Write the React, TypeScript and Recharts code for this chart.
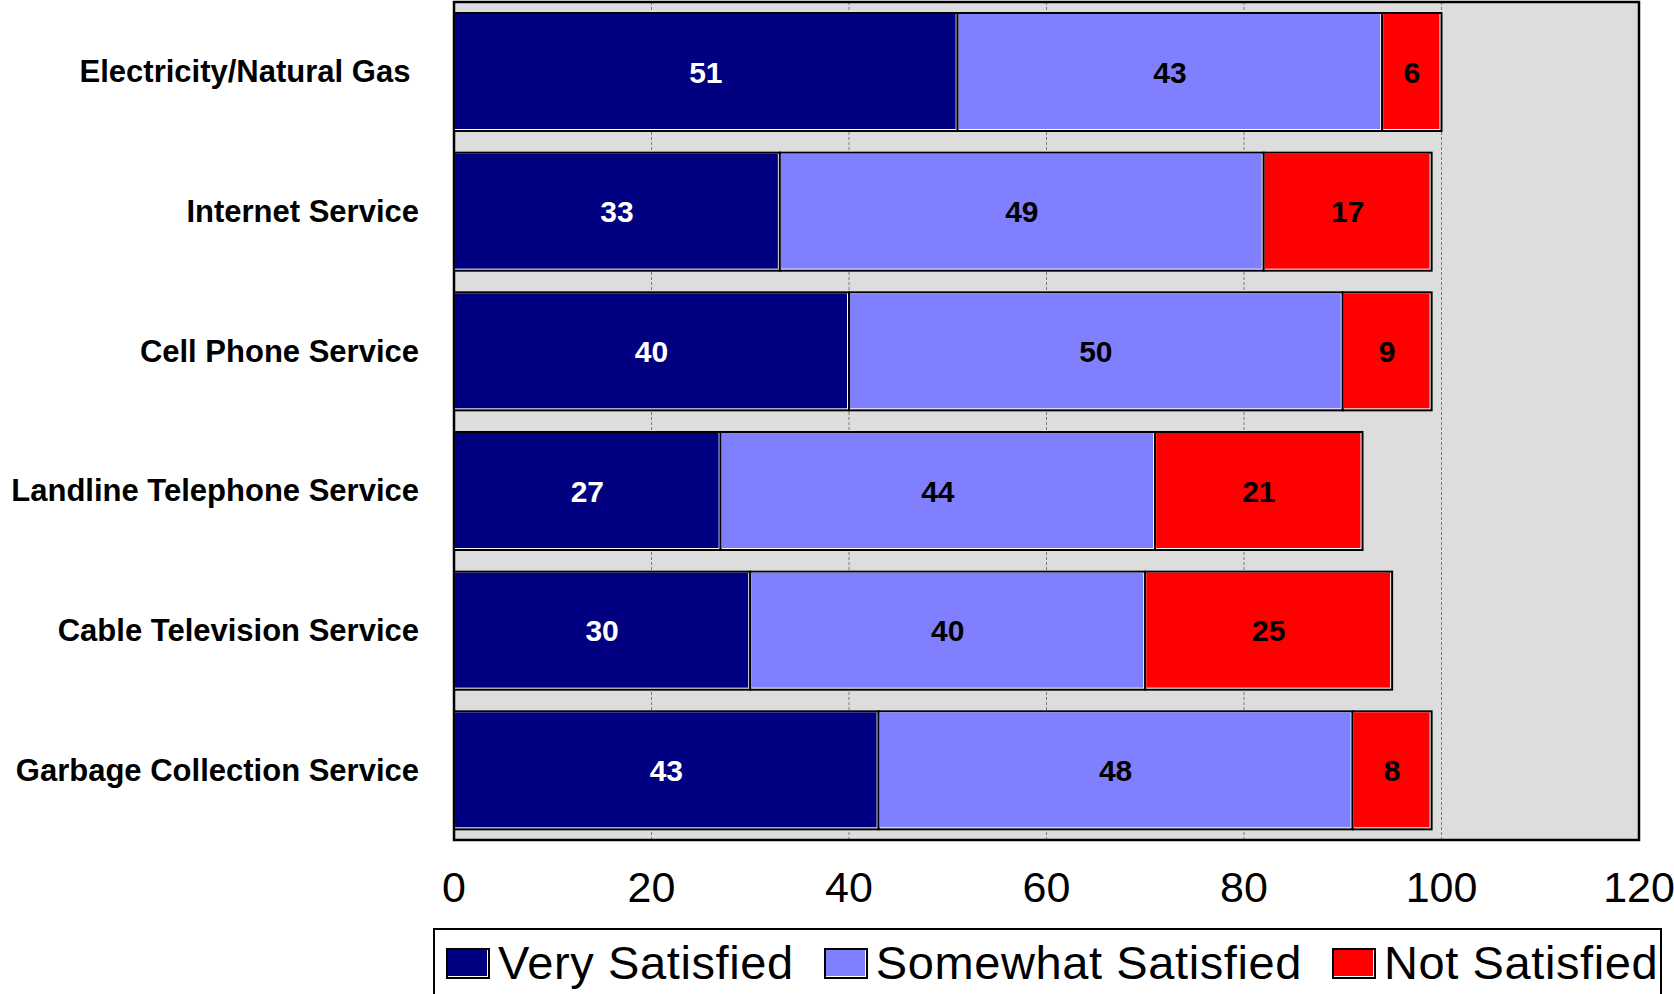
import { BarChart, Bar, XAxis, YAxis, CartesianGrid, Legend, LabelList, ReferenceArea } from 'recharts';

const categories = [
  'Electricity/Natural Gas ',
  'Internet Service',
  'Cell Phone Service',
  'Landline Telephone Service',
  'Cable Television Service',
  'Garbage Collection Service',
];
const verySatisfied = [51, 33, 40, 27, 30, 43];
const somewhatSatisfied = [43, 49, 50, 44, 40, 48];
const notSatisfied = [6, 17, 9, 21, 25, 8];
const xTicks = [0, 20, 40, 60, 80, 100, 120];

const series = [
  { key: 'very', name: 'Very Satisfied', color: '#000080', labelColor: '#ffffff' },
  { key: 'somewhat', name: 'Somewhat Satisfied', color: '#8080ff', labelColor: '#000000' },
  { key: 'not', name: 'Not Satisfied', color: '#ff0000', labelColor: '#000000' },
];

const data = categories.map((name, i) => ({
  name,
  very: verySatisfied[i],
  somewhat: somewhatSatisfied[i],
  not: notSatisfied[i],
}));

const FONT = '"Liberation Sans", Arial, sans-serif';

// black outline with a thin white edge on the bottom/right, like the old excel look
const Segment = (props: any) => {
  const { x, y, width, height, fill } = props;
  if (!width || width <= 0) return null;
  return (
    <g>
      <rect x={x - 1} y={y - 1} width={width + 2} height={height + 2} fill="#000" />
      <rect x={x + 1} y={y + 1} width={width - 2} height={height - 2} fill="#fff" />
      <rect x={x + 1} y={y + 1} width={width - 3} height={height - 3} fill={fill} />
    </g>
  );
};

const CategoryTick = ({ y, payload }: any) => (
  <text
    x={419}
    y={y}
    textAnchor="end"
    dominantBaseline="central"
    fontFamily={FONT}
    fontWeight="bold"
    fontSize={31}
    fill="#000"
    style={{ whiteSpace: 'pre' }}
  >
    {payload.value}
  </text>
);

const ValueTick = ({ x, payload }: any) => (
  <text x={x} y={902} textAnchor="middle" fontFamily={FONT} fontSize={43} fill="#000">
    {payload.value}
  </text>
);

const Swatch = ({ color }: { color: string }) => (
  <svg width={44} height={31} style={{ display: 'block', flex: 'none' }}>
    <rect x={0} y={0} width={44} height={31} fill="#000" />
    <rect x={2} y={2} width={40} height={27} fill="#fff" />
    <rect x={2} y={2} width={39} height={26} fill={color} />
  </svg>
);

const LegendBox = () => (
  <div
    style={{
      boxSizing: 'border-box',
      width: '100%',
      height: 72,
      border: '2px solid #000',
      background: '#fff',
      display: 'flex',
      alignItems: 'center',
      paddingLeft: 11,
      paddingBottom: 2,
      fontFamily: FONT,
      fontSize: 47,
      letterSpacing: 0.6,
      color: '#000',
      whiteSpace: 'nowrap',
    }}
  >
    {series.map((s, i) => (
      <div key={s.key} style={{ display: 'flex', alignItems: 'center', marginLeft: i === 0 ? 0 : 30 }}>
        <Swatch color={s.color} />
        <span style={{ marginLeft: 8, lineHeight: '52px' }}>{s.name}</span>
      </div>
    ))}
  </div>
);

export default function App() {
  return (
    <div style={{ position: 'absolute', left: 0, top: 0, width: 1674, height: 994, overflow: 'hidden', background: '#fff' }}>
      <BarChart
        width={1674}
        height={994}
        data={data}
        layout="vertical"
        margin={{ top: 2, right: 35, bottom: 0, left: 0 }}
        barCategoryGap={11}
      >
        <CartesianGrid horizontal={false} vertical strokeDasharray="3 2" stroke="#7a7a7a" fill="#dddddd" />
        <XAxis
          type="number"
          domain={[0, 120]}
          ticks={xTicks}
          interval={0}
          axisLine={false}
          tickLine={false}
          height={84}
          tick={<ValueTick />}
        />
        <YAxis type="category" dataKey="name" width={454} axisLine={false} tickLine={false} tick={<CategoryTick />} />
        <ReferenceArea x1={0} x2={120} fill="none" stroke="#000" strokeWidth={2.5} ifOverflow="visible" />
        {series.map((s) => (
          <Bar key={s.key} dataKey={s.key} name={s.name} stackId="a" fill={s.color} shape={<Segment />} isAnimationActive={false}>
            <LabelList
              dataKey={s.key}
              position="center"
              fill={s.labelColor}
              fontFamily={FONT}
              fontWeight="bold"
              fontSize={30}
            />
          </Bar>
        ))}
        <Legend
          verticalAlign="bottom"
          height={70}
          content={<LegendBox />}
          wrapperStyle={{ left: 433, top: 928, width: 1229, height: 70 }}
        />
      </BarChart>
    </div>
  );
}
